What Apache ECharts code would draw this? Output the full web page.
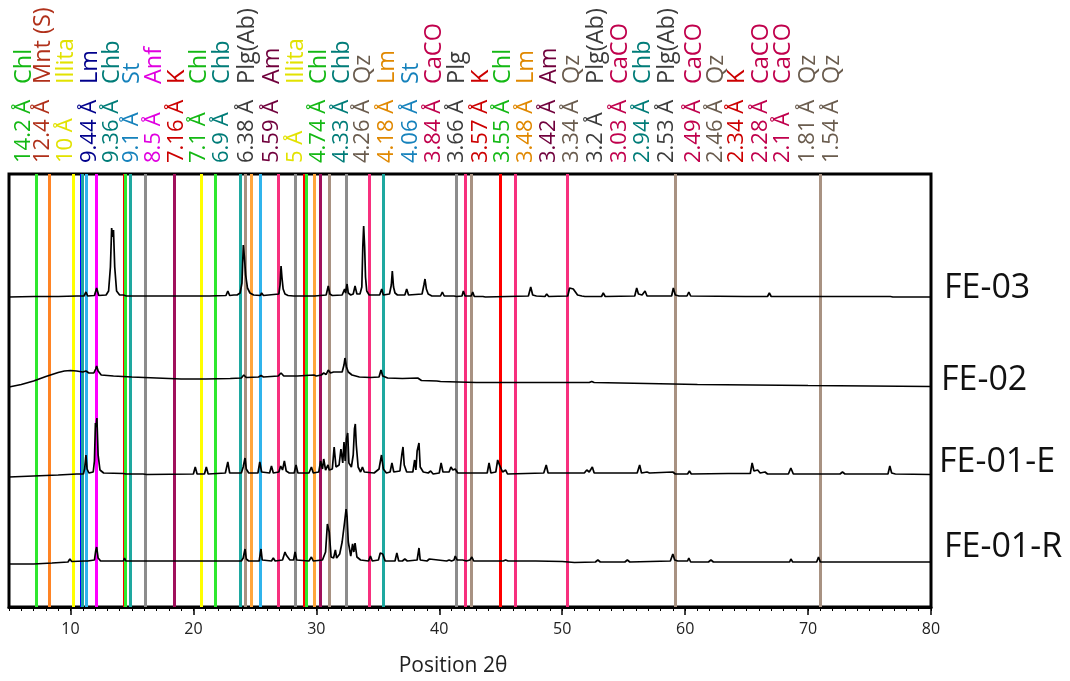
<!DOCTYPE html>
<html>
<head>
<meta charset="utf-8">
<script src="https://cdn.jsdelivr.net/npm/echarts@6/dist/echarts.min.js"></script>
<style>
  html, body { margin: 0; padding: 0; background: #fff; }
  #chart { width: 1070px; height: 681px; }
</style>
</head>
<body>
<div id="chart"></div>
<script>
// Reference d-spacings (Å) and the phase each one marks
const refD = [14.2, 12.4, 10, 9.44, 9.36, 9.1, 8.5, 7.16, 7.1, 6.9, 6.38, 5.59, 5, 4.74, 4.33, 4.26, 4.18, 4.06,
  3.84, 3.66, 3.57, 3.55, 3.48, 3.42, 3.34, 3.2, 3.03, 2.94, 2.53, 2.49, 2.46, 2.34, 2.28, 2.1, 1.81, 1.54];
const refPhase = ['Chl', 'Mnt (S)', 'Illita', 'Lm', 'Chb', 'St', 'Anf', 'K', 'Chl', 'Chb', 'Plg(Ab)', 'Am', 'Illita',
  'Chl', 'Chb', 'Qz', 'Lm', 'St', 'CaCO', 'Plg', 'K', 'Chl', 'Lm', 'Am', 'Qz', 'Plg(Ab)', 'CaCO', 'Chb', 'Plg(Ab)',
  'CaCO', 'Qz', 'K', 'CaCO', 'CaCO', 'Qz', 'Qz'];
const refStyleKey = ['chl', 'mnt', 'ill', 'lmBlue', 'chb', 'st', 'anf', 'k', 'chl', 'chb', 'plg', 'am', 'ill',
  'chl', 'chb', 'qz', 'lm', 'st', 'caco', 'plg', 'k', 'chl', 'lm', 'am', 'qz', 'plg', 'caco', 'chb', 'plg',
  'caco', 'qz', 'k', 'caco', 'caco', 'qz', 'qz'];

// Axis tick labels
const xTickValues = [10, 20, 30, 40, 50, 60, 70, 80];

// Sample names and vertical offsets of each pattern
const sampleNames = ['FE-03', 'FE-02', 'FE-01-E', 'FE-01-R'];
const sampleOffsets = [310, 220, 132, 45];

// Patterns: [2θ, intensity above the sample's offset]
const fe03 = [[5,0],[7,0.5],[9,0.5],[10.5,1],[11.1,1],[11.26,5],[11.4,1],
  [11.95,1.5],[12.13,9],[12.3,1.5],
  [12.9,2],[13.1,6],[13.25,30],[13.35,69],[13.42,60],[13.5,67],[13.6,30],[13.75,6],[14.0,2],
  [14.3,2],[14.4,4],[14.55,1],[16.2,1],[16.35,2],[16.5,1],
  [18.8,1],[18.9,2.5],[19.05,1],[20.1,1],[20.25,2],[20.4,1],[21.0,1],[21.15,2],[21.3,1],
  [22.65,1.5],[22.8,6],[22.95,1.5],[23.3,2],[23.4,4],[23.55,2],
  [23.8,4],[23.95,14],[24.06,52],[24.15,40],[24.25,22],[24.4,9],[24.6,4],[24.9,2],
  [25.45,1.5],[25.55,4],[25.7,1.5],
  [26.95,3],[27.05,12],[27.13,31],[27.2,20],[27.3,8],[27.45,3],[27.7,1.5],
  [28.15,1],[28.27,3],[28.4,1],[29.6,1],[29.7,2],[29.85,1],
  [30.8,2],[30.97,11],[31.1,3],[31.3,1.5],
  [32.1,2],[32.2,5],[32.3,8],[32.38,4],[32.5,13],[32.6,4],[32.8,2],[33.0,3],[33.15,11],[33.3,3],[33.55,3],
  [33.7,10],[33.78,50],[33.85,71],[33.93,50],[34.0,20],[34.1,6],[34.3,2],
  [35.15,2],[35.32,8],[35.45,2],
  [35.95,3],[36.1,12],[36.18,26],[36.28,10],[36.4,4],[36.6,2],
  [37.2,2],[37.35,8],[37.5,2],
  [38.6,3],[38.75,12],[38.84,18],[38.95,8],[39.1,3],[39.4,1],
  [40.1,1],[40.25,5],[40.4,1],[41.2,1],[41.28,2],[41.4,0.5],
  [41.85,1],[41.96,6],[42.1,1],[42.6,1],[42.72,5],[42.85,0.5],
  [43.55,0.5],[43.64,2],[43.75,0],
  [47.25,1],[47.44,10],[47.6,2],[47.9,1],[48.6,0.5],[48.74,3],[48.9,0.5],
  [50.45,1],[50.6,9],[50.75,7],[50.9,8],[51.05,7],[51.25,2],[51.6,1],[51.72,3],[51.85,0.5],
  [53.2,0.5],[53.34,4],[53.5,0.5],
  [55.9,1],[56.06,9],[56.2,3],[56.5,2],[56.74,6],[56.9,1],
  [58.9,1],[59.04,9],[59.2,2],[59.5,1],[60.15,1],[60.3,5],[60.45,1],
  [64.9,0.5],[65.0,2],[65.15,0.5],[66.7,0.5],[66.85,4],[67.0,0.5],
  [68.55,0.5],[68.67,2],[68.8,0.5],[76.7,0.5],[76.8,1.5],[76.9,0],[80,0]];

const fe02 = [[5,0],[6,2.5],[7,6],[8,10.5],[8.5,12.5],[9,14.5],[9.5,16],[10,16.5],[10.5,16],[11,15],[11.26,16],
  [11.5,14],[11.9,14],[12.05,18],[12.13,21],[12.25,16],[12.5,12],[13.5,11],[15,10],[17,9],[19,8],[21,8],[23,8.5],
  [23.9,9],[24.1,12],[24.3,9.5],[25.3,10],[25.5,11.5],[25.7,10],[26.9,11],[27.13,14],[27.35,11],[28.2,11],[28.3,12],
  [28.45,11],[29.8,12],[30.0,11],[30.4,12],[30.6,14],[30.8,12.5],[30.97,17],[31.15,14],[31.4,15],[31.55,13.5],
  [32.1,15],[32.25,22],[32.33,29],[32.45,20],[32.6,15],[32.9,12],[33.5,10],[34.4,9.5],[35.1,10],[35.26,17],
  [35.4,11],[35.8,9],[37,8.5],[38.25,9],[38.4,11],[38.55,6.5],[39.8,6],[39.95,7],[40.1,5.5],[43,4.5],[48,4.5],
  [52.2,4.5],[52.4,5.5],[52.6,4.5],[59,3],[61,2.5],[70,1.5],[80,0.5]];

const fe01e = [[5,-2],[7,-1],[9,0],[10.5,1],[11.05,1],[11.15,6],[11.26,20],[11.35,6],[11.5,2],
  [11.85,3],[11.95,14],[12.03,52],[12.08,48],[12.15,57],[12.25,20],[12.4,5],[12.7,2],
  [14.3,1.5],[14.4,3],[14.5,1],[15.9,1],[16.05,2],[16.2,0.5],
  [20.0,1],[20.15,8],[20.3,1],[20.9,1],[21.05,8],[21.2,1],
  [22.6,2],[22.8,13],[22.95,2],
  [23.9,2],[24.05,8],[24.2,17],[24.3,6],[24.5,2],
  [25.25,2],[25.4,13],[25.55,3],[26.2,2],[26.35,9],[26.5,2],
  [26.95,3],[27.1,9],[27.25,5],[27.4,14],[27.55,4],[27.8,2],
  [28.2,2],[28.35,10],[28.5,2],[29.4,2],[29.6,8],[29.75,2],
  [30.2,3],[30.35,14],[30.5,6],[30.6,16],[30.75,5],[30.95,10],[31.05,5],
  [31.3,6],[31.45,28],[31.6,8],
  [31.85,10],[32.0,26],[32.15,12],[32.25,33],[32.35,14],[32.45,36],[32.55,42],[32.65,12],[32.85,8],
  [33.0,20],[33.1,46],[33.17,51],[33.25,30],[33.4,8],[33.6,3],[33.75,8],[33.9,3],
  [34.7,2],[35.1,6],[35.3,20],[35.45,6],[35.7,2],
  [36.0,3],[36.15,12],[36.3,3],
  [36.8,4],[36.95,20],[37.05,28],[37.15,10],[37.35,3],
  [37.85,3],[38.0,15],[38.1,5],[38.2,24],[38.35,32],[38.45,8],[38.7,3],
  [39.1,2],[39.3,4],[39.5,1],[40.0,2],[40.15,12],[40.3,3],
  [40.8,3],[40.95,8],[41.1,5],[41.3,6],[41.5,2],
  [43.9,2],[44.05,12],[44.2,2],
  [44.6,3],[44.75,15],[44.9,10],[45.0,12],[45.15,3],[45.4,5],[45.55,1],
  [48.5,2],[48.7,10],[48.85,2],
  [51.8,2],[52.0,5],[52.2,3],[52.45,8],[52.6,2],
  [56.1,2],[56.3,10],[56.45,2],[56.9,3],[57.1,2],
  [59,3],[59.2,1],[60.2,1],[60.35,4],[60.5,1],
  [63.5,1.5],[65.3,1.5],[65.45,12],[65.6,4],[65.9,5],[66.1,2],[66.5,3],[66.7,1],
  [68.4,1],[68.6,7],[68.8,1],[72.6,1],[72.8,3],[73.0,1],
  [76.5,1],[76.65,9],[76.8,2],[77.1,1],[80,0.5]];

const fe01r = [[5,-2],[7,-2],[8.5,-1],[9.8,0],[9.95,3],[10.1,0.5],
  [11.15,1],[11.26,3],[11.4,1],[11.95,2],[12.05,11],[12.13,15],[12.25,4],[12.45,1],
  [14.3,1],[14.4,4],[14.5,1],[15.85,1],[16.0,3],[16.15,1],
  [20.9,1],[21.0,2],[21.1,1],[22.7,1],[22.8,2],[22.9,1],
  [23.9,1],[24.05,4],[24.2,13],[24.3,3],[24.5,1],
  [25.35,1],[25.5,13],[25.6,2],[26.35,1],[26.5,4],[26.65,1],
  [27.25,2],[27.45,10],[27.55,7],[27.7,9],[27.85,2],
  [28.15,2],[28.27,10],[28.4,2],[29.4,1],[29.6,5],[29.75,1],
  [30.5,2],[30.75,10],[30.9,38],[30.97,40],[31.05,30],[31.2,5],[31.4,4],[31.55,12],[31.65,4],
  [31.9,8],[32.1,20],[32.3,40],[32.42,53],[32.5,45],[32.6,20],[32.8,6],[32.95,18],[33.05,10],[33.15,19],[33.3,5],[33.6,2],
  [34.25,1],[34.4,6],[34.55,1],
  [35.05,2],[35.2,9],[35.3,7],[35.4,8],[35.6,1],
  [36.4,1],[36.55,9],[36.7,1],[37.0,1],[37.2,3],[37.4,1],
  [38.2,2],[38.35,14],[38.45,2],[39.0,1],[39.2,3],[39.35,1],
  [40.6,1],[40.8,2],[41.0,1],
  [41.2,2],[41.3,6],[41.45,2],[41.9,2],[42.0,3],[42.2,1],[42.5,2],[42.65,5],[42.8,1],
  [43.7,1],[43.8,2],[43.9,1],[45.2,1],[45.4,2],[45.6,1],
  [46.4,1],[46.55,3],[46.7,1],[47.6,1],[47.7,2],[47.85,1],
  [50.0,0.5],[51.0,-0.5],[52.7,0],[52.9,2],[53.1,0],[55.1,0],[55.3,2],[55.5,0],
  [58.8,1],[59.0,8],[59.15,2],[59.4,1],[59.55,2],[59.7,1],[60.2,1],[60.3,4],[60.45,0],
  [61.9,0],[62.1,2],[62.3,0],[64.7,0],[64.8,2],[64.95,0],
  [66.3,0],[66.4,1.5],[66.5,0],[68.5,0],[68.6,3],[68.75,0],
  [70.7,0],[70.85,5],[71.0,0],[75.0,0],[75.1,1],[75.2,0],[80,0]];

const samplePatterns = [fe03, fe02, fe01e, fe01r];

// Line and label colours per marker style
const markerColors = {
  chl:    { line: '#2ee82e', text: '#14b814' },
  mnt:    { line: '#ff8424', text: '#b0301a' },
  ill:    { line: '#ffff00', text: '#e2e200' },
  lmBlue: { line: '#0000ff', text: '#00008c' },
  chb:    { line: '#1ea8a0', text: '#007c78' },
  st:     { line: '#30b4ec', text: '#1682bc' },
  anf:    { line: '#ff00ff', text: '#e000e0' },
  k:      { line: '#ff0000', text: '#cc0000' },
  plg:    { line: '#8c8c8c', text: '#3c3c3c' },
  am:     { line: '#a0105c', text: '#70003c' },
  qz:     { line: '#a89282', text: '#6a5c4e' },
  lm:     { line: '#ffa63c', text: '#e08800' },
  caco:   { line: '#f7307e', text: '#c0004c' }
};

// Co Kα1 wavelength used to place each d-spacing on the 2θ axis
const LAMBDA = 1.78897;
function twoTheta(d) {
  return 2 * Math.asin(LAMBDA / (2 * d)) * 180 / Math.PI;
}

const series = [];

// Phase reference lines
series.push({
  type: 'line',
  data: [],
  silent: true,
  z: 1,
  markLine: {
    silent: true,
    symbol: ['none', 'none'],
    label: { show: false },
    animation: false,
    data: refD.map((d, i) => ({
      xAxis: twoTheta(d),
      lineStyle: { color: markerColors[refStyleKey[i]].line, width: 3, type: 'solid' }
    }))
  }
});

// Diffraction patterns, stacked by offset
samplePatterns.forEach((pat, i) => {
  series.push({
    name: sampleNames[i],
    type: 'line',
    z: 5,
    symbol: 'none',
    silent: true,
    animation: false,
    lineStyle: { color: '#000', width: 1.7 },
    data: pat.map(p => [p[0], p[1] + sampleOffsets[i]])
  });
});

// Rotated peak labels along the top: d-spacing column and phase column
const labelX = [24, 43, 66, 90, 112, 132, 154, 177, 199, 222, 247, 272, 296, 319, 342, 363, 387, 411, 434, 457,
  481, 503, 526, 549, 572, 596, 620, 643, 667, 694, 716, 737, 761, 783, 808, 832];
const dBaseY = 163, phaseBaseY = 84;
const dFont = '22px "Open Sans", "Noto Sans", sans-serif';
const phaseFont = '23.5px "Open Sans", "Noto Sans", sans-serif';
const graphics = [];
refD.forEach((d, i) => {
  const fill = markerColors[refStyleKey[i]].text;
  graphics.push({
    type: 'text', x: labelX[i], y: dBaseY, rotation: Math.PI / 2, silent: true,
    style: { text: d + ' Å', fill: fill, font: dFont, textAlign: 'left', textVerticalAlign: 'middle' }
  });
  graphics.push({
    type: 'text', x: labelX[i], y: phaseBaseY, rotation: Math.PI / 2, silent: true,
    style: { text: refPhase[i], fill: fill, font: phaseFont, textAlign: 'left', textVerticalAlign: 'middle' }
  });
});

// Sample names at the right of the plot
const nameY = [288, 380, 462, 547];
const nameX = [944, 941, 939, 944];
sampleNames.forEach((n, i) => {
  graphics.push({
    type: 'text', x: nameX[i], y: nameY[i], silent: true,
    style: {
      text: n, fill: '#111', font: '34px "Open Sans", "Noto Sans", sans-serif',
      textAlign: 'left', textVerticalAlign: 'middle'
    }
  });
});

const chart = echarts.init(document.getElementById('chart'), null, { renderer: 'canvas' });
chart.setOption({
  animation: false,
  backgroundColor: '#fff',
  grid: {
    left: 9, top: 174, right: 139, bottom: 74,
    show: true, borderColor: '#000', borderWidth: 3, backgroundColor: 'transparent',
    containLabel: false, outerBoundsMode: 'none'
  },
  xAxis: [{
    type: 'value',
    min: 5,
    max: 80,
    name: 'Position 2θ',
    nameLocation: 'middle',
    nameGap: 49,
    nameTextStyle: { color: '#222', fontSize: 21, padding: [0, 34, 0, 0],
      fontFamily: '"Open Sans", "Noto Sans", sans-serif' },
    axisLine: { show: true, lineStyle: { color: '#000', width: 3 } },
    axisTick: { show: true, customValues: xTickValues, length: 8, lineStyle: { color: '#000', width: 1.5 } },
    axisLabel: { show: true, customValues: xTickValues, color: '#222', fontSize: 16, margin: 14,
      fontFamily: '"Open Sans", "Noto Sans", sans-serif' },
    splitLine: { show: false }
  }, {
    type: 'value',
    min: 5,
    max: 80,
    interval: 1,
    position: 'bottom',
    axisLine: { show: false },
    axisTick: { show: true, length: 4, lineStyle: { color: '#000', width: 1 } },
    axisLabel: { show: false },
    splitLine: { show: false }
  }],
  yAxis: {
    type: 'value',
    min: 0,
    max: 433,
    show: false,
    splitLine: { show: false }
  },
  series: series,
  graphic: graphics
});
</script>
</body>
</html>
